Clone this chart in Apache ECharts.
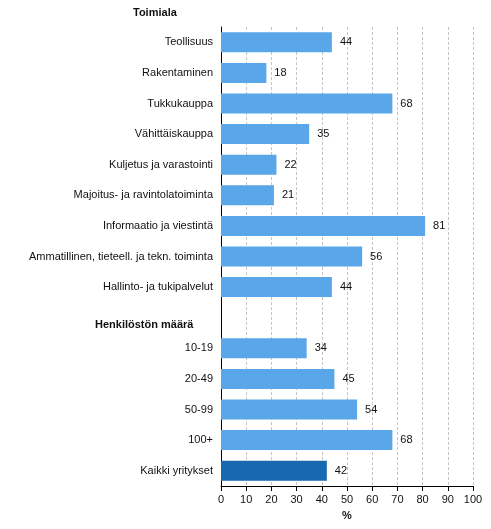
<!DOCTYPE html>
<html lang="fi">
<head>
    <meta charset="UTF-8">
    <title>Toimiala ja henkilöstön määrä</title>
    <script src="https://cdn.jsdelivr.net/npm/echarts@6/dist/echarts.min.js"></script>
    <style>
        html, body { margin: 0; padding: 0; background: #fff; }
        #chart { width: 491px; height: 529px; }
    </style>
</head>
<body>
    <div id="chart"></div>

    <script>
        // rows top to bottom, '' = spacer row under the second group header
        const categories = [
            'Teollisuus', 'Rakentaminen', 'Tukkukauppa', 'Vähittäiskauppa',
            'Kuljetus ja varastointi', 'Majoitus- ja ravintolatoiminta',
            'Informaatio ja viestintä', 'Ammatillinen, tieteell. ja tekn. toiminta',
            'Hallinto- ja tukipalvelut', '',
            '10-19', '20-49', '50-99', '100+', 'Kaikki yritykset'
        ];
        const values = [44, 18, 68, 35, 22, 21, 81, 56, 44, null, 34, 45, 54, 68, 42];
        const totalRow = 'Kaikki yritykset';
        const groupHeaders = ['Toimiala', 'Henkilöstön määrä'];
        const xTicks = [0, 10, 20, 30, 40, 50, 60, 70, 80, 90, 100];

        const font = 'Arial, "Liberation Sans", sans-serif';
        let chart = echarts.init(document.getElementById('chart'));

        let barData = values.map((v, i) => ({
            value: v,
            itemStyle: { color: categories[i] === totalRow ? '#1868B0' : '#59A6E8' }
        }));

        let option = {
            animation: false,
            textStyle: { fontFamily: font },
            grid: { left: 221, right: 18, top: 27, bottom: 43, containLabel: false },
            graphic: [
                { type: 'text', left: 133, top: 7,
                  style: { text: groupHeaders[0], font: 'bold 11px ' + font, fill: '#111' } },
                { type: 'text', left: 95, top: 319,
                  style: { text: groupHeaders[1], font: 'bold 11px ' + font, fill: '#111' } }
            ],
            xAxis: {
                type: 'value',
                min: xTicks[0],
                max: xTicks[xTicks.length - 1],
                interval: 10,
                name: '%',
                nameLocation: 'middle',
                nameGap: 24,
                nameTextStyle: { color: '#111', fontSize: 11, fontWeight: 'bold', fontFamily: font },
                axisLine: { show: true, lineStyle: { color: '#000', width: 1 } },
                axisTick: { show: true, length: 5, lineStyle: { color: '#000' } },
                axisLabel: { color: '#111', fontSize: 11, margin: 8, fontFamily: font },
                splitLine: { show: true, lineStyle: { color: '#c4c4c4', type: [3, 2], width: 1 } }
            },
            yAxis: {
                type: 'category',
                inverse: true,
                data: categories,
                axisLine: { show: true, lineStyle: { color: '#000', width: 1 } },
                axisTick: { show: false },
                axisLabel: { color: '#111', fontSize: 11, margin: 8, fontFamily: font }
            },
            series: [{
                type: 'bar',
                data: barData,
                barWidth: 20,
                label: {
                    show: true,
                    position: 'right',
                    distance: 8,
                    color: '#111',
                    fontSize: 11,
                    fontFamily: font
                }
            }]
        };

        chart.setOption(option);
    </script>
</body>
</html>
